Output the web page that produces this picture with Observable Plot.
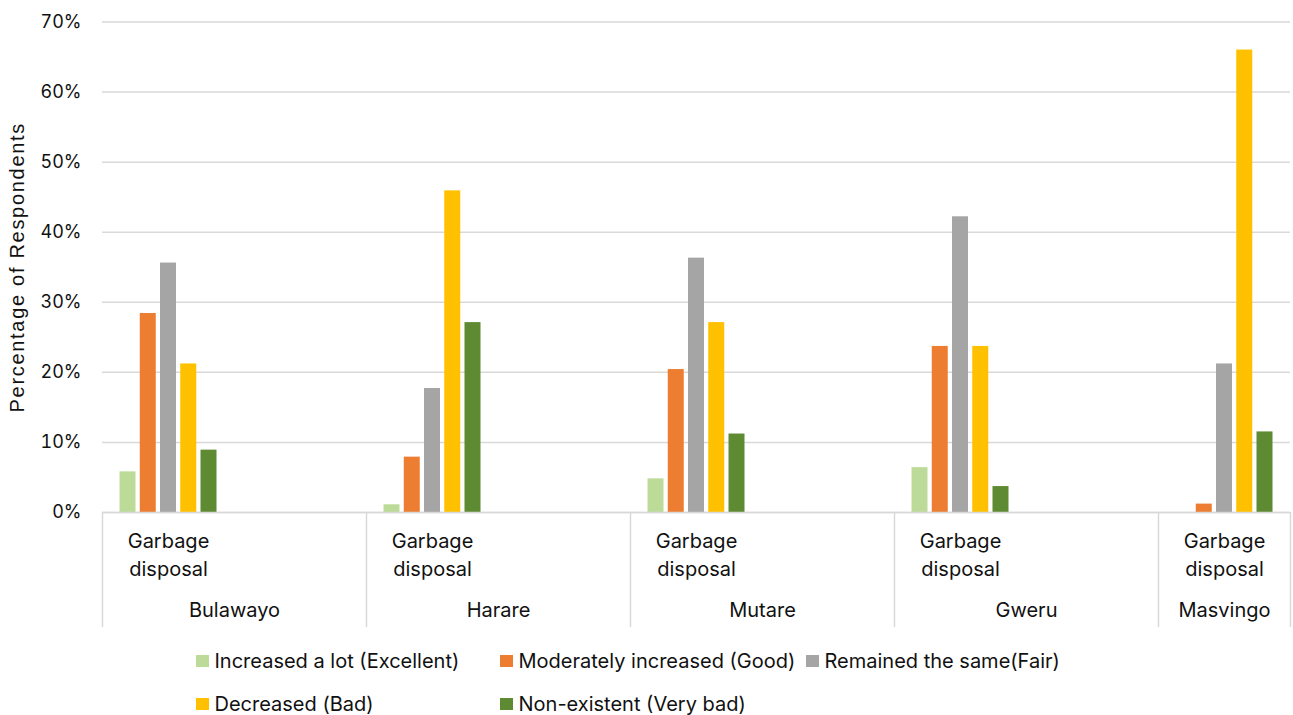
<!DOCTYPE html>
<html>
<head>
<meta charset="utf-8">
<script src="https://cdn.jsdelivr.net/npm/d3@7"></script>
<script src="https://cdn.jsdelivr.net/npm/@observablehq/plot@0.6"></script>
<style>
  html, body { margin: 0; padding: 0; background: #fff; }
  #wrap { position: relative; width: 1293px; height: 715px; font-family: Inter, "Noto Sans", sans-serif; color: #111; }
  #chart svg { display: block; }
  .leg { position: absolute; display: flex; align-items: center; font-size: 20px; white-space: nowrap; }
  .sw { width: 12.5px; height: 12.5px; margin-right: 6px; flex: none; }
</style>
</head>
<body>
<div id="wrap">
  <div id="chart"></div>
  <div id="legend"></div>
</div>
<script>
// ---- data ----
const categoryCity = ["Bulawayo","Bulawayo","Harare","Harare","Mutare","Mutare","Gweru","Gweru","Masvingo"];
const categoryItem = ["Garbage disposal","","Garbage disposal","","Garbage disposal","","Garbage disposal","","Garbage disposal"];
const cities = ["Bulawayo","Harare","Mutare","Gweru","Masvingo"];
const seriesNames = ["Increased a lot (Excellent)","Moderately increased (Good)","Remained the same(Fair)","Decreased (Bad)","Non-existent (Very bad)"];
const seriesColors = ["#BDDB98","#ED7D31","#A5A5A5","#FFC000","#5E8A32"];
const excellent = [5.8, 1.1, 4.8, 6.4, 0];
const good      = [28.4, 7.9, 20.4, 23.7, 1.2];
const fair      = [35.6, 17.7, 36.3, 42.2, 21.2];
const bad       = [21.2, 45.9, 27.1, 23.7, 66.0];
const veryBad   = [8.9, 27.1, 11.2, 3.7, 11.5];
const yTicks = [0, 10, 20, 30, 40, 50, 60, 70];

// ---- build tables ----
const seriesValues = [excellent, good, fair, bad, veryBad];
const slots = categoryCity.map((c, i) => ({index: i, city: c, item: categoryItem[i]}));
const citySlot = cities.map(c => slots.findIndex(s => s.city === c && s.item !== ""));
const step = 20.25 / 132, barW = 16 / 132;
const bars = [];
seriesNames.forEach((name, j) => {
  cities.forEach((c, k) => {
    const center = citySlot[k] + 0.5 + (j - 2) * step;
    bars.push({series: name, city: c, value: seriesValues[j][k], x1: center - barW / 2, x2: center + barW / 2});
  });
});
const cityGroups = cities.map(c => {
  const idx = slots.filter(s => s.city === c).map(s => s.index);
  return {city: c, start: d3.min(idx), end: d3.max(idx) + 1};
});
const boundaries = [...new Set(cityGroups.flatMap(g => [g.start, g.end]))];

const frameH = 512 - 21.5;
const plot = Plot.plot({
  width: 1293,
  height: 640,
  marginTop: 21.5,
  marginBottom: 128,
  marginLeft: 102,
  marginRight: 3,
  style: {fontFamily: "Inter, 'Noto Sans', sans-serif", fontSize: "18px", color: "#111", background: "#fff"},
  x: {type: "linear", domain: [0, slots.length], axis: null},
  y: {domain: [0, 70], ticks: yTicks, tickSize: 0, tickPadding: 21, tickFormat: d => d + "%", label: null},
  color: {domain: seriesNames, range: seriesColors},
  marks: [
    Plot.gridY(yTicks, {stroke: "#d9d9d9", strokeOpacity: 1, strokeWidth: 1.5}),
    Plot.rectY(bars, {x1: "x1", x2: "x2", y1: 0, y2: "value", fill: "series"}),
    Plot.ruleY([0], {stroke: "#d9d9d9", strokeWidth: 1.5}),
    Plot.ruleX(boundaries, {x: d => d, stroke: "#d9d9d9", strokeWidth: 1.5, insetTop: frameH, insetBottom: -115}),
    Plot.text(slots.filter(s => s.item !== ""), {
      x: s => s.index + 0.5, text: s => s.item.replace(" ", "\n"),
      frameAnchor: "bottom", lineAnchor: "middle", dy: 41, lineHeight: 28 / 20, fontSize: 20, fill: "#111"
    }),
    Plot.text(cityGroups, {
      x: g => (g.start + g.end) / 2, text: "city",
      frameAnchor: "bottom", lineAnchor: "middle", dy: 98, fontSize: 20, fill: "#111"
    }),
    Plot.text(["Percentage of Respondents"], {
      frameAnchor: "left", textAnchor: "middle", lineAnchor: "middle", rotate: -90, dx: -85,
      fontSize: 20, fontFamily: "'Liberation Sans', Arial, sans-serif", fill: "#111"
    })
  ]
});
d3.select(plot).selectAll("text").filter(function() { return this.textContent === "Percentage of Respondents"; })
  .style("letter-spacing", "1.7px");
document.getElementById("chart").appendChild(plot);

// ---- legend ----
const legendPos = [[196, 661], [500, 661], [806, 661], [196, 704], [500, 704]];
const legend = document.getElementById("legend");
seriesNames.forEach((name, i) => {
  const d = document.createElement("div");
  d.className = "leg";
  d.style.left = legendPos[i][0] + "px";
  d.style.top = (legendPos[i][1] - 12) + "px";
  d.style.height = "24px";
  d.innerHTML = `<span class="sw" style="background:${seriesColors[i]}"></span><span>${name}</span>`;
  legend.appendChild(d);
});
</script>
</body>
</html>
